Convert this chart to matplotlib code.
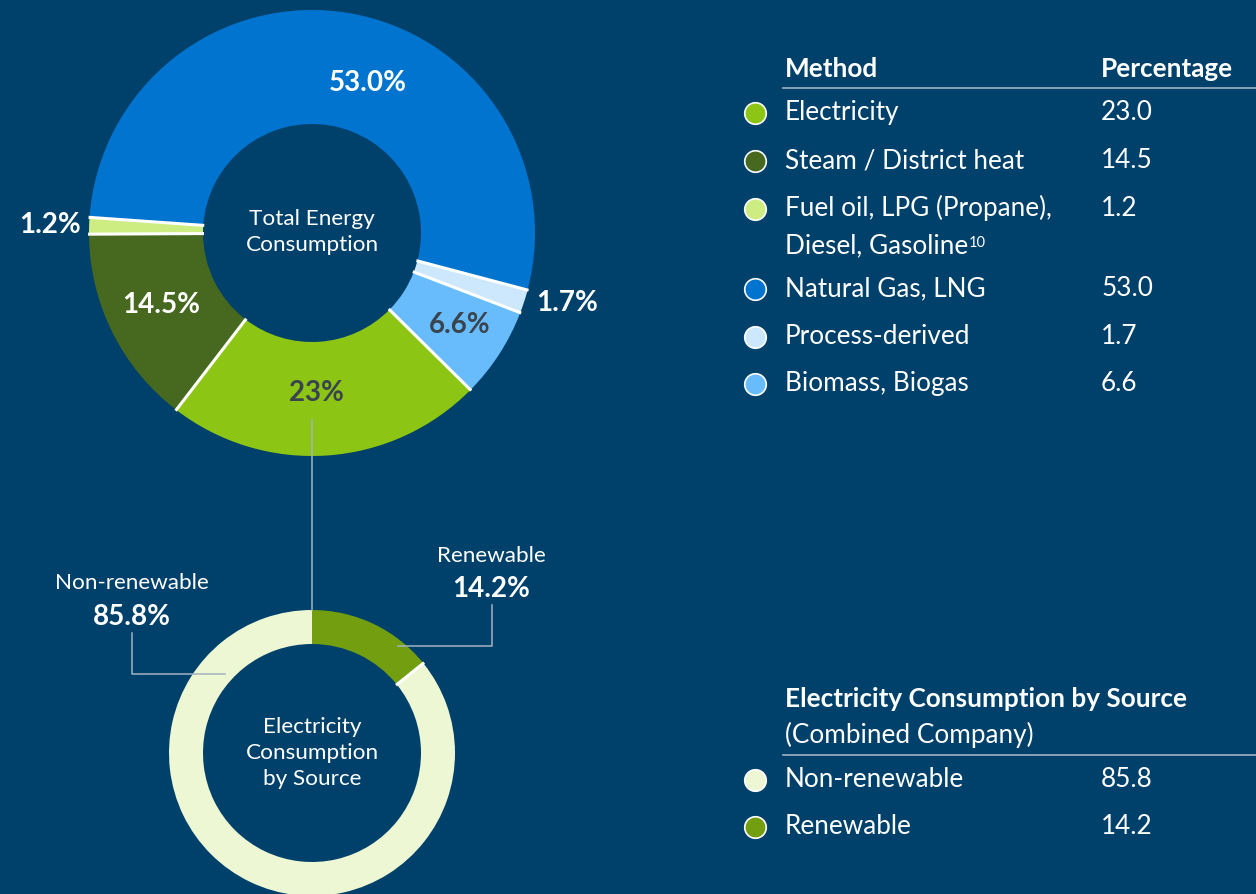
import numpy as np
import matplotlib
matplotlib.use("Agg")
import matplotlib.pyplot as plt

plt.rcParams['font.family'] = ['Lato', 'DejaVu Sans']

# ---------------- data ----------------
methods = ["Electricity", "Steam / District heat",
           "Fuel oil, LPG (Propane),",
           "Natural Gas, LNG", "Process-derived", "Biomass, Biogas"]
fuel_second_line = "Diesel, Gasoline"
fuel_footnote = "10"
method_values = [23.0, 14.5, 1.2, 53.0, 1.7, 6.6]
method_value_text = ["23.0", "14.5", "1.2", "53.0", "1.7", "6.6"]
method_pie_labels = ["23%", "14.5%", "1.2%", "53.0%", "1.7%", "6.6%"]

elec_sources = ["Non-renewable", "Renewable"]
elec_values = [85.8, 14.2]
elec_value_text = ["85.8", "14.2"]
elec_pie_labels = ["85.8%", "14.2%"]

# ---------------- style ----------------
BG = '#00416B'
method_colors = ['#8DC514', '#46681F', '#CDEC82', '#0074CF', '#CDE8FD', '#68BCFC']
elec_colors = ['#EDF7D4', '#729E10']
label_colors = ['#39444E', 'white', 'white', 'white', 'white', '#39444E']
LINE = '#A3B3C2'

W, H = 1256, 894
fig = plt.figure(figsize=(W / 100, H / 100), dpi=100, facecolor=BG)
ax = fig.add_axes([0, 0, 1, 1])
ax.set_facecolor(BG)

def Y(py):
    return H - py

# ---------------- top donut ----------------
c1 = (312, Y(233)); R1 = 223; w1 = 114; start1 = -44.7
ax.pie(method_values, colors=method_colors, startangle=start1, counterclock=False,
       radius=R1, center=c1, wedgeprops=dict(width=w1, linewidth=0))
cum = np.cumsum([0] + method_values)
for v in cum[:-1]:
    th = np.deg2rad(start1 - 360 * v / cum[-1])
    ax.plot([c1[0] + (R1 - w1 - 1) * np.cos(th), c1[0] + (R1 + 1) * np.cos(th)],
            [c1[1] + (R1 - w1 - 1) * np.sin(th), c1[1] + (R1 + 1) * np.sin(th)],
            color='white', lw=2.2, solid_capstyle='butt', zorder=3)

PCT_FS = 20
top_label_pos = [(316, 393), (161, 305), (50, 225), (368, 83), (567, 303), (460, 325)]
for lab, (px, py), col in zip(method_pie_labels, top_label_pos, label_colors):
    ax.text(px, Y(py), lab, ha='center', va='center', fontsize=PCT_FS,
            fontweight='bold', color=col, zorder=4)

ax.text(312, Y(232), "Total Energy\nConsumption", ha='center', va='center',
        fontsize=16.2, color='white', linespacing=1.38)

# ---------------- bottom donut ----------------
c2 = (312, Y(753)); R2 = 143; w2 = 34; start2 = 90
ax.pie(elec_values[::-1], colors=elec_colors[::-1], startangle=start2, counterclock=False,
       radius=R2, center=c2, wedgeprops=dict(width=w2, linewidth=0))
th = np.deg2rad(start2 - 360 * elec_values[1] / sum(elec_values))
ax.plot([c2[0] + (R2 - w2 - 1) * np.cos(th), c2[0] + (R2 + 1) * np.cos(th)],
        [c2[1] + (R2 - w2 - 1) * np.sin(th), c2[1] + (R2 + 1) * np.sin(th)],
        color='white', lw=2.2, solid_capstyle='butt', zorder=3)

ax.text(312, Y(753), "Electricity\nConsumption\nby Source", ha='center', va='center',
        fontsize=16.2, color='white', linespacing=1.4)

# connector and leader lines
ax.plot([312, 312], [Y(420), Y(610)], color=LINE, lw=1.1, zorder=2)
ax.plot([398, 492, 492], [Y(646), Y(646), Y(605)], color=LINE, lw=1.1, zorder=4)
ax.plot([225, 132, 132], [Y(674), Y(674), Y(633)], color=LINE, lw=1.1, zorder=4)

ax.text(491, Y(556), elec_sources[1], ha='center', va='center', fontsize=16.2, color='white')
ax.text(491, Y(589), elec_pie_labels[1], ha='center', va='center', fontsize=PCT_FS,
        fontweight='bold', color='white')
ax.text(132, Y(583), elec_sources[0], ha='center', va='center', fontsize=16.2, color='white')
ax.text(132, Y(617), elec_pie_labels[0], ha='center', va='center', fontsize=PCT_FS,
        fontweight='bold', color='white')

# ---------------- tables ----------------
TX, VX, MX = 785, 1101, 755
FS = 18.8
ax.text(TX, Y(77), "Method", fontsize=FS, fontweight='bold', color='white', va='baseline')
ax.text(VX, Y(77), "Percentage", fontsize=FS, fontweight='bold', color='white', va='baseline')
ax.plot([783, 1256], [Y(88), Y(88)], color='#9FB3C5', lw=1.2)

row_baselines = [120, 168, 216, 296, 344, 391]
for name, val, col, yb in zip(methods, method_value_text, method_colors, row_baselines):
    ax.text(TX, Y(yb), name, fontsize=FS, color='white', va='baseline')
    ax.text(VX, Y(yb), val, fontsize=FS, color='white', va='baseline')
    ax.scatter([MX], [Y(yb - 7)], s=15.5 ** 2, color=col, edgecolors='white',
               linewidths=1.2, zorder=5)

t2 = ax.text(TX, Y(253), fuel_second_line, fontsize=FS, color='white', va='baseline')
ax.annotate(fuel_footnote, xy=(1, 0), xycoords=t2, xytext=(0, 8), textcoords='offset points',
            fontsize=10.5, color='white', va='baseline', ha='left')

ax.text(TX, Y(707), "Electricity Consumption by Source", fontsize=FS, fontweight='bold',
        color='white', va='baseline')
ax.text(TX, Y(743), "(Combined Company)", fontsize=FS, color='white', va='baseline')
ax.plot([783, 1256], [Y(755), Y(755)], color='#9FB3C5', lw=1.2)

elec_baselines = [787, 834]
for name, val, col, yb in zip(elec_sources, elec_value_text, elec_colors, elec_baselines):
    ax.text(TX, Y(yb), name, fontsize=FS, color='white', va='baseline')
    ax.text(VX, Y(yb), val, fontsize=FS, color='white', va='baseline')
    ax.scatter([MX], [Y(yb - 7)], s=15.5 ** 2, color=col, edgecolors='white',
               linewidths=1.2, zorder=5)

ax.set_xlim(0, W)
ax.set_ylim(0, H)
ax.set_aspect('auto')
ax.axis('off')
fig.savefig('out.png', dpi=100, facecolor=BG)
